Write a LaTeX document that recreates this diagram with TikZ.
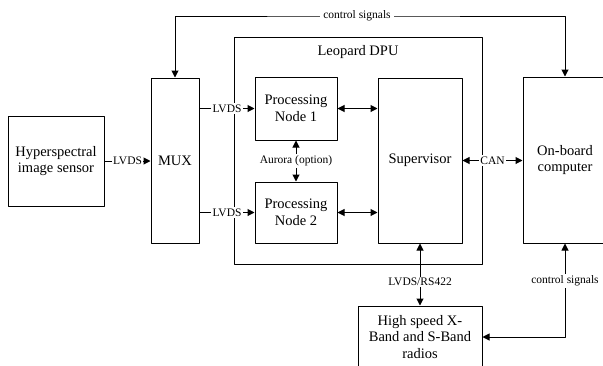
\documentclass[tikz,border=0pt]{standalone}
\usepackage{fontspec}
\setmainfont{Liberation Serif}
\usetikzlibrary{arrows.meta}
\tikzset{
	blk/.style={draw, line width=1pt, align=center, inner sep=2pt, font=\fontsize{14.5}{16.5}\selectfont},
	lbl/.style={fill=white, inner sep=1.5pt, font=\fontsize{11.5}{13}\selectfont},
	link/.style={line width=1pt, <->},
	feed/.style={line width=1pt, ->},
}
\begin{document}
\begin{tikzpicture}[>={Triangle[length=7pt,width=7pt]},line join=round, x=1pt, y=-1pt]
	\def \W{603}\def \H{365}
	\useasboundingbox (0,0) rectangle (\W,\H);
	\clip (0,0) rectangle (\W,\H);
	% blocks
	\node[blk, minimum width=96pt, minimum height=90pt] (sensor) at (56,161) {Hyperspectral\\image sensor};
	\node[blk, minimum width=48pt, minimum height=165pt] (mux) at (175,160.5) {MUX};
	\node[draw, line width=1pt, minimum width=248pt, minimum height=227pt] (dpu) at (358,150.5) {};
	\node[font=\fontsize{14.5}{16}\selectfont, below=5pt] (dputitle) at (dpu.north) {Leopard DPU};
	\node[blk, minimum width=82pt, minimum height=63pt] (pn1) at (296,108.5) {Processing\\Node 1};
	\node[blk, minimum width=82pt, minimum height=61pt] (pn2) at (296,212.5) {Processing\\Node 2};
	\node[blk, minimum width=84pt, minimum height=165pt] (sup) at (420,160.5) {Supervisor};
	\node[blk, minimum width=84pt, minimum height=166pt] (obc) at (565,160) {On-board\\computer};
	\node[blk, minimum width=124pt, minimum height=62pt] (radio) at (420,337) {High speed X-\\Band and S-Band\\radios};
	% links
	\draw[feed] (sensor.east) -- node[lbl] {LVDS} (sensor.east -| mux.west);
	\draw[feed] (mux.east |- pn1) -- node[lbl] {LVDS} (pn1.west);
	\draw[feed] (mux.east |- pn2) -- node[lbl] {LVDS} (pn2.west);
	\draw[link] (pn1.east) -- (pn1.east -| sup.west);
	\draw[link] (pn2.east) -- (pn2.east -| sup.west);
	\draw[link] (pn1.south) -- node[lbl] {Aurora (option)} (pn2.north);
	\draw[link] (sup.east) -- node[lbl] {CAN} (sup.east -| obc.west);
	\draw[link] (sup.south) -- node[lbl, pos=0.62] {LVDS/RS422} (radio.north);
	\coordinate (ctl) at (357,16);
	\draw[link] (mux.north) |- (ctl) -| (obc.north);
	\node[lbl, inner sep=3pt] (ctltext) at (ctl) {control signals};
	\draw[link] (radio.east) -| node[lbl, pos=0.8] {control signals} (obc.south);
\end{tikzpicture}
\end{document}
